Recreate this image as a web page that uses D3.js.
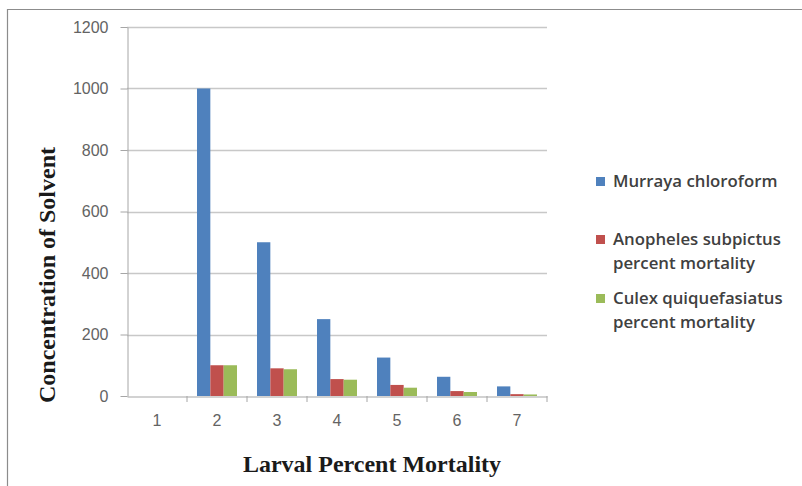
<!DOCTYPE html>
<html><head><meta charset="utf-8">
<script src="https://cdn.jsdelivr.net/npm/d3@7"></script>
<style>body{margin:0;background:#fff}svg{display:block}</style>
</head><body>
<svg id="c" width="802" height="486"></svg>
<script>
const categories = ["1","2","3","4","5","6","7"];
const seriesNames = ["Murraya chloroform","Anopheles subpictus percent mortality","Culex quiquefasiatus percent mortality"];
const murraya = [0,1000,500,250,125,62.5,31.25];
const anopheles = [0,100,90,55,36,16,6];
const culex = [0,100,87,53,27,13,5];
const yTicks = [0,200,400,600,800,1000,1200];
const colors = ["#4F81BD","#C0504D","#9BBB59"];
const series = [murraya, anopheles, culex];

const svg = d3.select("#c");
// outer frame
svg.append("path").attr("d","M7.5,486 V9.5 H802").attr("fill","none").attr("stroke","#8c8c8c").attr("stroke-width",1.2);

const L=127, R=547, T=27, B=396;
const x = d3.scaleBand().domain(categories).range([L,R]).paddingInner(0).paddingOuter(0);
const y = d3.scaleLinear().domain([0,1200]).range([B,T]);
const bw = x.bandwidth()/(3+1.5);
const xs = d3.scaleBand().domain(d3.range(3)).range([bw*0.75, bw*3.75]).padding(0);

// gridlines
svg.append("g").selectAll("line").data(yTicks.filter(d=>d>0)).join("line")
  .attr("x1",L).attr("x2",R).attr("y1",d=>Math.round(y(d))+0.5).attr("y2",d=>Math.round(y(d))+0.5)
  .attr("stroke","#c8c8c8").attr("stroke-width",1.5);

// y axis
const ya = svg.append("g").attr("transform",`translate(${L}.5,0)`)
  .call(d3.axisLeft(y).tickValues(yTicks).tickFormat(d3.format("d")).tickSize(7).tickPadding(12).tickSizeOuter(0));
ya.select(".domain").attr("stroke","#a6a6a6");
ya.selectAll(".tick line").attr("stroke","#a6a6a6");
ya.selectAll("text").attr("fill","#636363").style("font-family","'Liberation Sans', Arial, sans-serif").style("font-size","16px");

// bars
const g = svg.append("g");
series.forEach((s,i)=>{
  g.append("g").selectAll("rect").data(s).join("rect")
    .attr("x",(d,j)=>x(categories[j])+xs(i))
    .attr("width",xs.bandwidth())
    .attr("y",d=>y(d)).attr("height",d=>B-y(d))
    .attr("fill",colors[i]);
});

// x axis
const xa = svg.append("g").attr("transform",`translate(0,${B}.5)`)
  .call(d3.axisBottom(x).tickSize(0).tickPadding(18));
xa.select(".domain").attr("stroke","#a6a6a6").attr("stroke-width",1.2);
xa.selectAll("text").attr("fill","#636363").style("font-family","'Liberation Sans', Arial, sans-serif").style("font-size","16px");
// category boundary ticks
svg.append("g").selectAll("line").data(categories.slice(1).concat(["end"])).join("line")
  .attr("x1",d=>d==="end"?R:x(d)).attr("x2",d=>d==="end"?R:x(d))
  .attr("y1",B).attr("y2",B+6).attr("stroke","#a6a6a6");

// axis titles
svg.append("text").attr("transform",`translate(55,275) rotate(-90)`).attr("text-anchor","middle")
  .style("font-family","'Liberation Serif','Times New Roman',serif").style("font-weight","bold").style("font-size","24px")
  .attr("fill","#1a1a1a").text("Concentration of Solvent");
svg.append("text").attr("x",372).attr("y",472).attr("text-anchor","middle")
  .style("font-family","'Liberation Serif','Times New Roman',serif").style("font-weight","bold").style("font-size","24px")
  .attr("fill","#1a1a1a").text("Larval Percent Mortality");

// legend
const legend = [
  {lines:["Murraya chloroform"], y:182},
  {lines:["Anopheles subpictus","percent mortality"], y:240},
  {lines:["Culex quiquefasiatus","percent mortality"], y:299}
];
legend.forEach((l,i)=>{
  svg.append("rect").attr("x",596).attr("y",l.y-5).attr("width",9).attr("height",9).attr("fill",colors[i]);
  const t = svg.append("text").attr("x",613).attr("y",l.y+5)
    .style("font-family","'Open Sans','Liberation Sans',sans-serif").style("font-size","16.8px").style("font-weight","600").attr("fill","#404040");
  l.lines.forEach((s,k)=>t.append("tspan").attr("x",613).attr("dy",k?24:0).text(s));
});
</script>
</body></html>
